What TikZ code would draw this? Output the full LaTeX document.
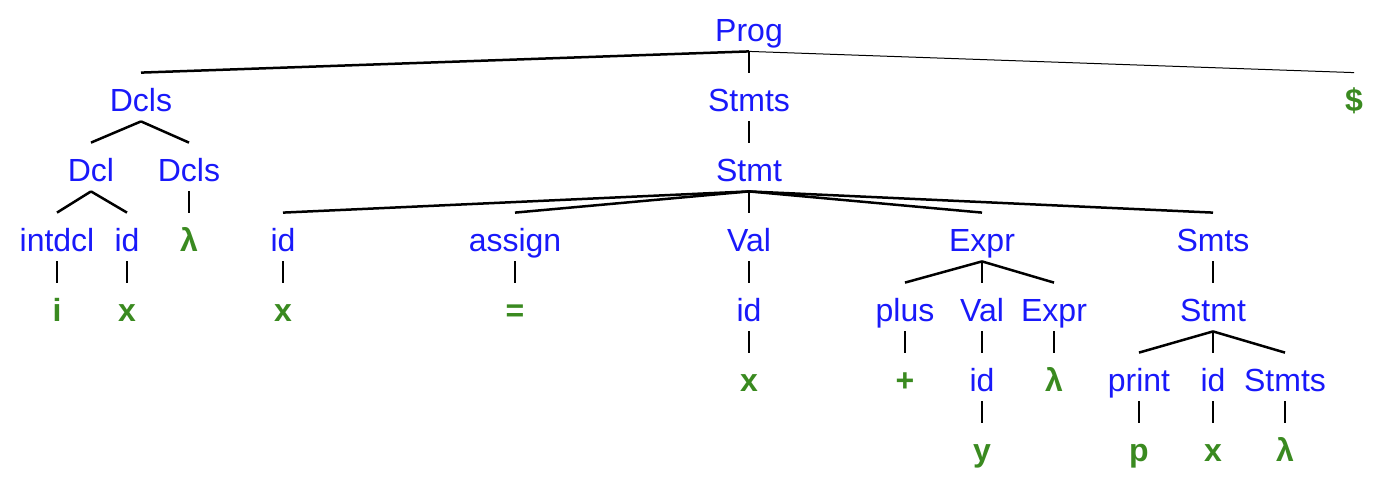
\documentclass[tikz,border=0pt]{standalone}
\usepackage{fontspec}
\setmainfont{Liberation Sans}
\definecolor{ntblue}{RGB}{25, 25, 250}
\definecolor{termgreen}{RGB}{58, 138, 32}
\usetikzlibrary{positioning}

\begin{document}
\begin{tikzpicture}[x=0.5pt, y=-0.5pt,
    nonterm/.style={text=ntblue, font=\fontsize{16}{18}\selectfont, anchor=base, inner sep=0pt, text height=19pt, text depth=5pt},
    term/.style={nonterm, text=termgreen, font=\fontsize{16}{18}\selectfont\bfseries},
    edge/.style={line width=1.25pt},
    stem/.style={line width=0.8pt},
    thinedge/.style={line width=0.5pt}]
    \useasboundingbox (0,0) rectangle (1380,478);

    % Root
    \node[nonterm] (prog) at (749,41) {Prog};
    \node[nonterm] (dcls) at (141,111) {Dcls};
    \node[nonterm] (stmts) at (749,111) {Stmts};
    \node[term] (dollar) at (1354,111) {\$};

    % Declarations
    \node[nonterm] (dcl) at (91,181) {Dcl};
    \node[nonterm] (dcls_b) at (189,181) {Dcls};
    \node[nonterm] (intdcl) at (57,251) {intdcl};
    \node[nonterm] (id_a) at (127,251) {id};
    \node[term] (lam_a) at (189,251) {λ};
    \node[term] (i_t) at (57,321) {i};
    \node[term] (x_a) at (127,321) {x};

    % Assignment statement
    \node[nonterm] (stmt) at (749,181) {Stmt};
    \node[nonterm] (id_b) at (283,251) {id};
    \node[nonterm] (assign) at (515,251) {assign};
    \node[nonterm] (val) at (749,251) {Val};
    \node[nonterm] (expr) at (982,251) {Expr};
    \node[nonterm] (smts) at (1213,251) {Smts};
    \node[term] (x_b) at (283,321) {x};
    \node[term] (eq_t) at (515,321) {=};
    \node[nonterm] (id_c) at (749,321) {id};
    \node[term] (x_c) at (749,391) {x};

    % Expression
    \node[nonterm] (plus) at (905,321) {plus};
    \node[nonterm] (val_b) at (982,321) {Val};
    \node[nonterm] (expr_b) at (1054,321) {Expr};
    \node[term] (plus_t) at (905,391) {+};
    \node[nonterm] (id_d) at (982,391) {id};
    \node[term] (lam_b) at (1054,391) {λ};
    \node[term] (y_t) at (982,461) {y};

    % Print statement
    \node[nonterm] (stmt_b) at (1213,321) {Stmt};
    \node[nonterm] (print) at (1139,391) {print};
    \node[nonterm] (id_e) at (1213,391) {id};
    \node[nonterm] (stmts_b) at (1285,391) {Stmts};
    \node[term] (p_t) at (1139,461) {p};
    \node[term] (x_d) at (1213,461) {x};
    \node[term] (lam_c) at (1285,461) {λ};

    % Branches
    \draw[edge] (prog.south) -- (dcls.north);
    \draw[thinedge] (prog.south) -- (dollar.north);
    \draw[edge] (dcls.south) -- (dcl.north);
    \draw[edge] (dcls.south) -- (dcls_b.north);
    \draw[edge] (dcl.south) -- (intdcl.north);
    \draw[edge] (dcl.south) -- (id_a.north);
    \draw[edge] (stmt.south) -- (id_b.north);
    \draw[edge] (stmt.south) -- (assign.north);
    \draw[edge] (stmt.south) -- (expr.north);
    \draw[edge] (stmt.south) -- (smts.north);
    \draw[edge] (expr.south) -- (plus.north);
    \draw[edge] (expr.south) -- (expr_b.north);
    \draw[edge] (stmt_b.south) -- (print.north);
    \draw[edge] (stmt_b.south) -- (stmts_b.north);

    % Vertical stems
    \draw[stem] (prog.south) -- (stmts.north);
    \draw[stem] (dcls_b.south) -- (lam_a.north);
    \draw[stem] (intdcl.south) -- (i_t.north);
    \draw[stem] (id_a.south) -- (x_a.north);
    \draw[stem] (stmts.south) -- (stmt.north);
    \draw[stem] (stmt.south) -- (val.north);
    \draw[stem] (id_b.south) -- (x_b.north);
    \draw[stem] (assign.south) -- (eq_t.north);
    \draw[stem] (val.south) -- (id_c.north);
    \draw[stem] (id_c.south) -- (x_c.north);
    \draw[stem] (expr.south) -- (val_b.north);
    \draw[stem] (plus.south) -- (plus_t.north);
    \draw[stem] (val_b.south) -- (id_d.north);
    \draw[stem] (expr_b.south) -- (lam_b.north);
    \draw[stem] (id_d.south) -- (y_t.north);
    \draw[stem] (smts.south) -- (stmt_b.north);
    \draw[stem] (stmt_b.south) -- (id_e.north);
    \draw[stem] (print.south) -- (p_t.north);
    \draw[stem] (id_e.south) -- (x_d.north);
    \draw[stem] (stmts_b.south) -- (lam_c.north);
\end{tikzpicture}
\end{document}
